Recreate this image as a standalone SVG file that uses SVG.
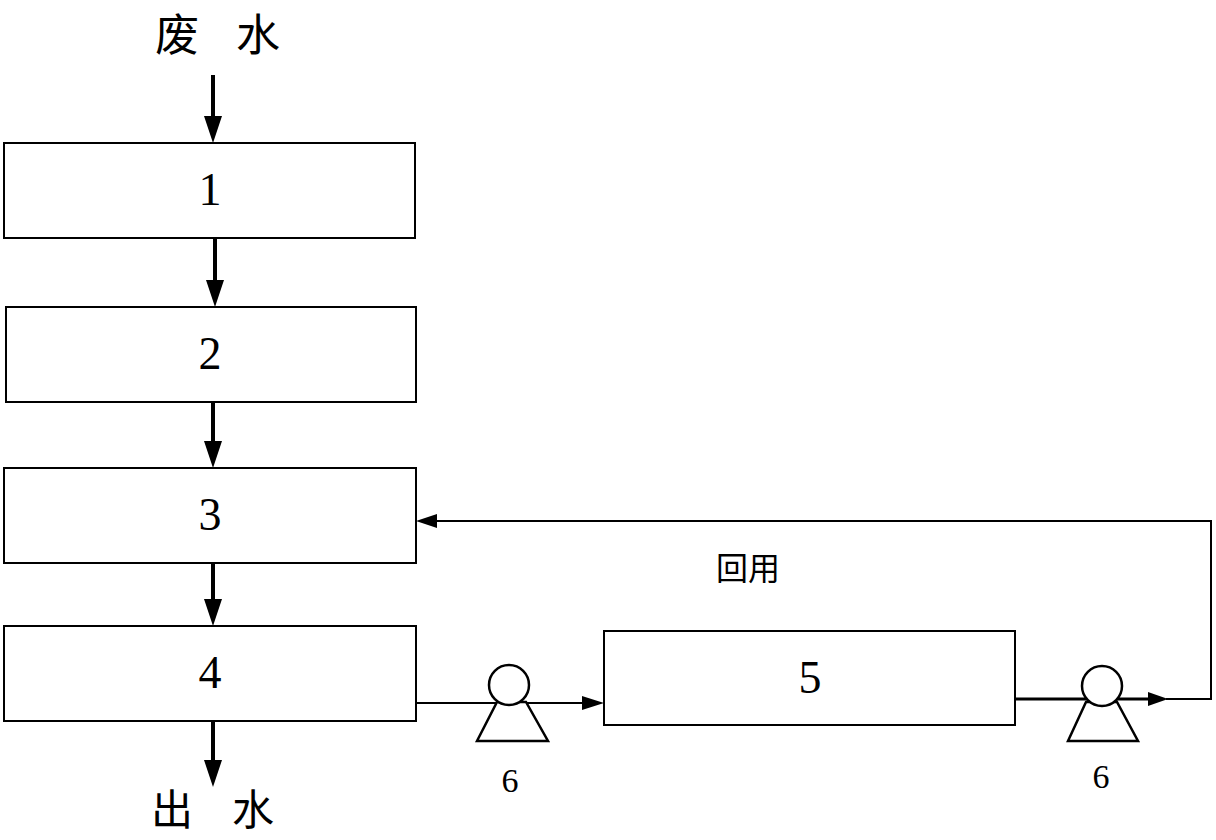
<svg xmlns="http://www.w3.org/2000/svg" width="1216" height="840" viewBox="0 0 1216 840">
<style>
.box{fill:#fff;stroke:#000;stroke-width:2}
.num{font-family:"Liberation Serif","DejaVu Serif",serif;font-size:46px;fill:#000;text-anchor:middle}
.cjk{font-family:"Noto Sans CJK SC",sans-serif;fill:#000;text-anchor:middle;dominant-baseline:central}
.pl{font-family:"Liberation Serif","DejaVu Serif",serif;font-size:34px;fill:#000;text-anchor:middle}
.flow{stroke:#000;stroke-width:4;fill:none}
.thin{stroke:#000;stroke-width:2;fill:none}
.pump{stroke:#000;stroke-width:2.5;fill:#fff}
</style>
<rect width="1216" height="840" fill="#fff"/>
<g id="label-in"><text class="cjk" x="177" y="32" font-size="44">废</text><text class="cjk" x="258" y="32" font-size="44">水</text></g>
<g id="label-out"><text class="cjk" x="172" y="806" font-size="42">出</text><text class="cjk" x="253" y="806" font-size="42">水</text></g>
<g id="n1"><rect class="box" x="4" y="143" width="411" height="95"/><text class="num" x="210" y="205">1</text></g>
<g id="n2"><rect class="box" x="6" y="307" width="410" height="95"/><text class="num" x="210" y="369">2</text></g>
<g id="n3"><rect class="box" x="4" y="468" width="412" height="95"/><text class="num" x="210" y="530">3</text></g>
<g id="n4"><rect class="box" x="4" y="626" width="412" height="95"/><text class="num" x="210" y="688">4</text></g>
<g id="n5"><rect class="box" x="604" y="631" width="411" height="94"/><text class="num" x="810" y="693">5</text></g>
<g id="connectors">
<line class="flow" x1="213" y1="75" x2="213" y2="118"/><polygon points="204,116 222,116 213,143"/>
<line class="flow" x1="215" y1="238" x2="215" y2="282"/><polygon points="206,280 224,280 215,307"/>
<line class="flow" x1="213" y1="402" x2="213" y2="443"/><polygon points="204,441 222,441 213,468"/>
<line class="flow" x1="213" y1="563" x2="213" y2="601"/><polygon points="204,599 222,599 213,626"/>
<line class="flow" x1="213" y1="721" x2="213" y2="763"/><polygon points="204,760 222,760 213,787"/>
<line class="thin" x1="416" y1="703" x2="584" y2="703"/><polygon points="582,696 604,703 582,710"/>
<line x1="1015" y1="699" x2="1150" y2="699" stroke="#000" stroke-width="3"/><polygon points="1148,692 1168,699 1148,706"/>
<polyline class="thin" points="1166,699 1211,699 1211,521 436,521"/><polygon points="437,514 416,521 437,528"/>
</g>
<g id="pump1"><polygon class="pump" points="497,702 526,702 548,741 477,741"/><circle class="pump" cx="509" cy="685" r="20"/></g>
<g id="pump2"><polygon class="pump" points="1086,702 1117,702 1138,741 1068,741"/><circle class="pump" cx="1102" cy="686" r="20"/></g>
<text class="pl" x="510" y="792">6</text>
<text class="pl" x="1101" y="788">6</text>
<text class="cjk" x="748" y="566" font-size="32">回用</text>
</svg>
